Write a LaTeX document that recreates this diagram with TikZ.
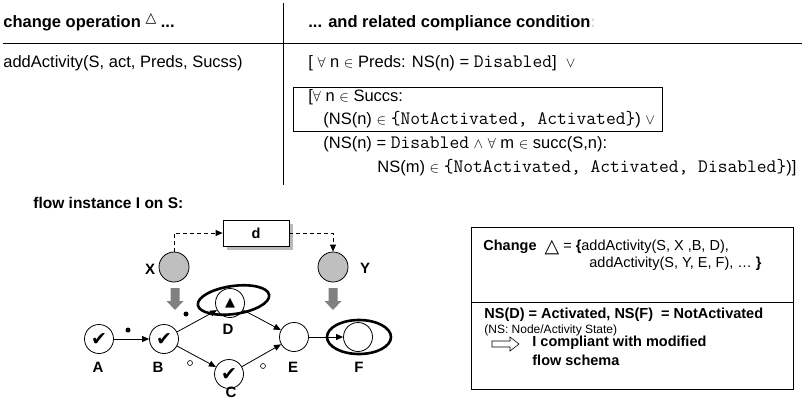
\documentclass[tikz,border=0pt]{standalone}
\usepackage{fontspec}
\setmainfont{Liberation Sans}
\newfontfamily\symfont{DejaVu Sans}
\usetikzlibrary{arrows.meta,shadows}

\newcommand{\mono}[1]{{\fontsize{19}{20}\ttfamily #1}}
\newcommand{\sym}[1]{{\fontsize{14}{15}\selectfont$#1$}}
\newcommand{\chk}{{\symfont\fontsize{19}{19}\selectfont ✔}}

\begin{document}
\begin{tikzpicture}[x=1pt,y=-1pt,line width=0.8pt,
  every node/.style={inner sep=0pt},
  tabtext/.style={anchor=west,font=\fontsize{16.5}{19}\selectfont,text height=12pt,text depth=3.5pt},
  boxtext/.style={anchor=west,font=\fontsize{14.5}{17}\selectfont,text height=10.5pt,text depth=3pt},
  act/.style={circle,draw,minimum size=29pt,fill=white},
  newact/.style={act,fill=gray!50,minimum size=30pt},
  lbl/.style={font=\fontsize{15}{17}\selectfont\bfseries},
  flow/.style={-{Triangle[length=7pt,width=6pt]}},
  token/.style={circle,fill,minimum size=5pt}]
\useasboundingbox (0,0) rectangle (802,400);

% table
\draw (3,43) -- (802,43);
\draw (283,3) -- (283,185);
\node[tabtext,font=\fontsize{16.5}{19}\selectfont\bfseries] (hop) at (3,23) {change operation \raisebox{5pt}{\symfont\fontsize{14}{14}\selectfont △} ...};
\node[tabtext,font=\fontsize{16.5}{19}\selectfont\bfseries] (hcond) at (308,23) {... and related compliance condition{\color{gray!30}:}};
\node[tabtext] (op) at (3,63) {addActivity(S, act, Preds, Sucss)};
\node[tabtext] (c1) at (308,63) {[ \sym\forall{} n \sym\in{} Preds: NS(n) = \mono{Disabled}]\ \ \sym\vee};
\draw (293,87) rectangle (662,131);
\node[tabtext] (c2) at (308,97) {[\sym\forall{} n \sym\in{} Succs:};
\node[tabtext] (c3) at (323,120) {(NS(n) \sym\in{} \mono{\{NotActivated, Activated\}}) \sym\vee};
\node[tabtext] (c4) at (323,144) {(NS(n) = \mono{Disabled} \sym\wedge{} \sym\forall{} m \sym\in{} succ(S,n):};
\node[tabtext] (c5) at (377,168) {NS(m) \sym\in{} \mono{\{NotActivated, Activated, Disabled\}})]};

% flow instance
\node[anchor=west,font=\fontsize{15.5}{18}\selectfont\bfseries] (title) at (33,203) {flow instance I on S:};

\node[act] (A) at (99,339) {\chk};
\node[act] (B) at (164,339) {\chk};
\node[act] (D) at (230,303) {{\symfont\fontsize{13}{13}\selectfont ▲}};
\node[act] (C) at (229,374) {\chk};
\node[act] (E) at (294,337) {};
\node[act] (F) at (358,337) {};
\node[newact] (X) at (174,267) {};
\node[newact] (Y) at (333,267) {};
\node[draw,fill=white,minimum width=66pt,minimum height=26pt,
  drop shadow={shadow xshift=4pt,shadow yshift=-4pt,fill=gray!55,opacity=1},
  font=\fontsize{14.5}{17}\selectfont\bfseries] (d) at (256,233) {d};

\node[lbl] (la) at (98,367) {A};
\node[lbl] (lb) at (158,367) {B};
\node[lbl] (ld) at (228,329) {D};
\node[lbl] (lc) at (231,392) {C};
\node[lbl] (le) at (293,367) {E};
\node[lbl] (lf) at (359,367) {F};
\node[lbl] (lx) at (150,269) {X};
\node[lbl] (ly) at (365,268) {Y};

\draw[line width=2.6pt,rotate around={8:(233.5,300)}] (233.5,300) ellipse [x radius=36,y radius=14];
\draw[line width=2.6pt] (359,337) ellipse [x radius=32,y radius=17];

\draw[flow] (A) -- (B);
\draw[flow] (B) -- (D);
\draw[flow] (B) -- (C);
\draw[flow] (D) -- (E);
\draw[flow] (C) -- (E);
\draw[flow] (E) -- (F);
\draw[dash pattern=on 4pt off 3pt,flow] (X.north) |- (d.west);
\draw[dash pattern=on 4pt off 3pt,flow] (d.east) -| (Y.north);

\node[token] (t1) at (128,330) {};
\node[token] (t2) at (186,314) {};
\node[token,fill=white,draw,line width=0.6pt] (t3) at (190,363) {};
\node[token,fill=white,draw,line width=0.6pt] (t4) at (263,366) {};

% insert arrows
\fill[gray] (170.5,288) -- (179.5,288) -- (179.5,301) -- (183.5,301) -- (175,310) -- (166.5,301) -- (170.5,301) -- cycle;
\fill[gray] (328.5,288) -- (337.5,288) -- (337.5,301) -- (341.5,301) -- (333,310) -- (324.5,301) -- (328.5,301) -- cycle;

% change box
\draw (471,227) rectangle (793,389);
\draw (471,302) -- (793,302);
\node[boxtext] (ch1) at (483,247) {\textbf{Change}\ \ \raisebox{-1.5pt}{\symfont\fontsize{19}{19}\selectfont △} = \textbf{\{}addActivity(S, X ,B, D),};
\node[boxtext] (ch2) at (589,264) {addActivity(S, Y, E, F), … \textbf{\}}};
\node[boxtext,font=\fontsize{14.5}{17}\selectfont\bfseries] (ns) at (484,315) {NS(D) = Activated, NS(F)\ \ = NotActivated};
\node[anchor=west,font=\fontsize{12}{13}\selectfont] (nsk) at (484,330) {(NS: Node/Activity State)};
\draw[line width=0.6pt,fill=white] (492,341) -- (510,341) -- (510,337) -- (519,344) -- (510,351) -- (510,347) -- (492,347) -- cycle;
\node[boxtext,font=\fontsize{14.5}{17}\selectfont\bfseries] (res1) at (532,343) {I compliant with modified};
\node[boxtext,font=\fontsize{14.5}{17}\selectfont\bfseries] (res2) at (532,362) {flow schema};
\end{tikzpicture}
\end{document}
